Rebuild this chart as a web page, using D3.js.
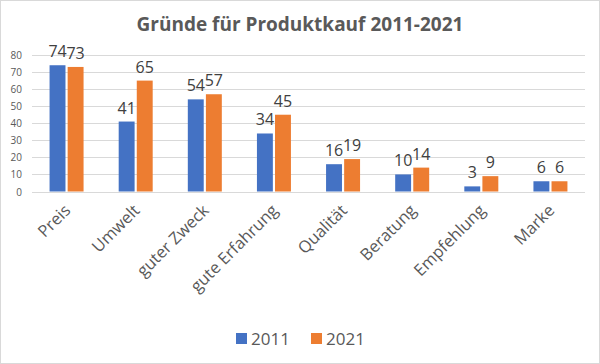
<!DOCTYPE html>
<html>
<head>
<meta charset="utf-8">
<script src="https://cdn.jsdelivr.net/npm/d3@7"></script>
<style>
  body { margin: 0; background: #fff; }
  svg { display: block; font-family: "Open Sans", "Liberation Sans", sans-serif; }
</style>
</head>
<body>
<svg width="600" height="364"></svg>
<script>
const categories = ["Preis", "Umwelt", "guter Zweck", "gute Erfahrung", "Qualität", "Beratung", "Empfehlung", "Marke"];
const values2011 = [74, 41, 54, 34, 16, 10, 3, 6];
const values2021 = [73, 65, 57, 45, 19, 14, 9, 6];
const seriesNames = ["2011", "2021"];
const yTicks = [0, 10, 20, 30, 40, 50, 60, 70, 80];

const colors = ["#4472C4", "#ED7D31"];

const svg = d3.select("svg"),
  width = +svg.attr("width"),
  height = +svg.attr("height"),
  margin = { top: 55, right: 15, bottom: 173, left: 32 };

// border of the chart area
svg.append("rect")
  .attr("x", 0.5).attr("y", 0.5)
  .attr("width", width - 1).attr("height", height - 1)
  .attr("fill", "#fff")
  .attr("stroke", "#d9d9d9");

svg.append("text")
  .attr("x", width / 2)
  .attr("y", 31)
  .attr("text-anchor", "middle")
  .attr("font-size", 19)
  .attr("font-weight", "bold")
  .attr("fill", "#595959")
  .text("Gründe für Produktkauf 2011-2021");

const x = d3.scaleBand()
  .domain(categories)
  .range([margin.left, width - margin.right]);

const x1 = d3.scaleBand()
  .domain(seriesNames)
  .range([0, 34])
  .paddingInner(0.12);

const y = d3.scaleLinear()
  .domain([0, 80])
  .range([height - margin.bottom + 0.5, margin.top]);

// gridlines + y labels
const yAxis = svg.append("g");
yAxis.selectAll("line")
  .data(yTicks)
  .join("line")
  .attr("x1", margin.left)
  .attr("x2", width - margin.right)
  .attr("y1", d => Math.round(y(d)) + 0.5)
  .attr("y2", d => Math.round(y(d)) + 0.5)
  .attr("stroke", "#d9d9d9");
yAxis.selectAll("text")
  .data(yTicks)
  .join("text")
  .attr("x", 22)
  .attr("y", d => y(d) + 4)
  .attr("text-anchor", "end")
  .attr("font-size", 10)
  .attr("fill", "#595959")
  .text(d => d);

const data = categories.map((c, i) => ({
  name: c,
  vals: [
    { key: seriesNames[0], value: values2011[i] },
    { key: seriesNames[1], value: values2021[i] },
  ],
}));

const groups = svg.append("g")
  .selectAll("g")
  .data(data)
  .join("g")
  .attr("transform", d => `translate(${x(d.name) + x.bandwidth() / 2 - 17},0)`);

groups.selectAll("rect")
  .data(d => d.vals)
  .join("rect")
  .attr("x", d => x1(d.key))
  .attr("y", d => y(d.value))
  .attr("width", x1.bandwidth())
  .attr("height", d => y(0) - y(d.value))
  .attr("fill", (d, i) => colors[i]);

groups.selectAll("text")
  .data(d => d.vals)
  .join("text")
  .attr("x", d => x1(d.key) + x1.bandwidth() / 2)
  .attr("y", d => y(d.value) - 8)
  .attr("text-anchor", "middle")
  .attr("font-size", 16)
  .attr("fill", "#404040")
  .text(d => d.value);

// category labels, rotated
svg.append("g")
  .selectAll("text")
  .data(categories)
  .join("text")
  .attr("transform", d => `translate(${x(d) + x.bandwidth() / 2 + 5},${y(0) + 20}) rotate(-45)`)
  .attr("text-anchor", "end")
  .attr("font-size", 16.5)
  .attr("fill", "#595959")
  .text(d => d);

// legend
const legend = svg.append("g")
  .selectAll("g")
  .data(seriesNames)
  .join("g")
  .attr("transform", (d, i) => `translate(${236 + i * 75},333)`);
legend.append("rect")
  .attr("width", 11).attr("height", 11)
  .attr("fill", (d, i) => colors[i]);
legend.append("text")
  .attr("x", 15)
  .attr("y", 12)
  .attr("font-size", 17)
  .attr("fill", "#595959")
  .text(d => d);
</script>
</body>
</html>
